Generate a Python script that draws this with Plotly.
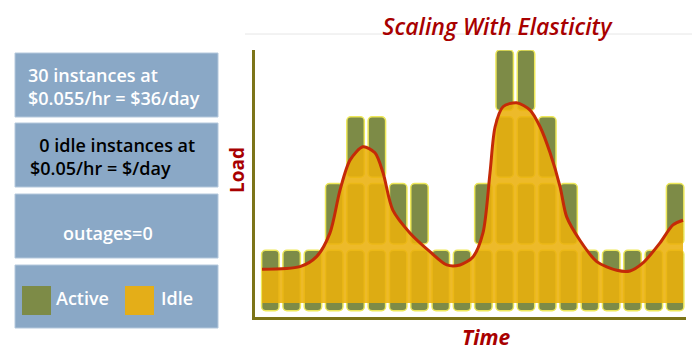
import plotly.graph_objects as go

# ---- data ----
columns = list(range(20))
active_levels = [1, 1, 1, 2, 3, 3, 2, 2, 1, 1, 2, 4, 4, 3, 2, 1, 1, 1, 1, 2]
load_time = [-0.39, 1.39, 2.17, 2.8, 3.27, 3.74, 4.35, 4.91, 5.29, 5.75, 6.55, 7.49,
             8.28, 8.9, 9.51, 9.98, 10.31, 10.55, 10.92, 11.56, 12.19, 12.66, 13.13,
             13.6, 13.91, 14.53, 15.32, 16.26, 16.88, 17.49, 18.29, 18.9, 19.37]
load_value = [0.715, 0.754, 0.904, 1.26, 1.90, 2.35, 2.55, 2.46, 2.16, 1.60, 1.26, 0.98,
              0.78, 0.78, 0.90, 1.26, 2.16, 2.85, 3.15, 3.21, 3.10, 2.85, 2.46,
              1.95, 1.50, 1.15, 0.83, 0.70, 0.69, 0.81, 1.11, 1.38, 1.45]
fill_floor = 0.21
block_gap = 0.095
box_lines = [["30 instances at", "$0.055/hr = $36/day"],
             ["\u00a0\u00a00 idle instances at", "$0.05/hr = $/day"],
             ["outages=0"]]
legend_labels = ["Active", "Idle"]

GREEN = "#7D8B47"
GOLD = "#E4AE18"
BOX = "#8AA8C6"
DARKRED = "#A80000"

fig = go.Figure()

for k in range(1, max(active_levels) + 1):
    xs = [c for c, h in zip(columns, active_levels) if h >= k]
    fig.add_trace(go.Bar(
        x=xs, y=[1 - block_gap] * len(xs), base=[k - 1 + block_gap] * len(xs),
        width=0.82, marker=dict(color=GREEN, line=dict(color="#EEE85A", width=1.5),
                                cornerradius=4),
        showlegend=False, hoverinfo="skip"))

fig.add_trace(go.Scatter(x=load_time, y=[fill_floor] * len(load_time), mode="lines",
                         line=dict(width=0, color="rgba(0,0,0,0)"), showlegend=False,
                         hoverinfo="skip"))
fig.add_trace(go.Scatter(x=load_time, y=load_value, mode="lines", fill="tonexty",
                         fillcolor="rgba(234,176,12,0.88)",
                         line=dict(color="#C42A08", width=3, shape="spline", smoothing=0.8),
                         showlegend=False))

# page body has an 8px margin: figure is shifted by OFF inside the window
OFF = 8
W, H = 700 - OFF, 358 - OFF
L, R, T, B = 255, 686, 50, 317   # plot area in window pixels
def px(x):
    return (x - L) / (R - L)
def py(y):
    return (B - y) / (B - T)

shapes = []
annotations = []
font = "Open Sans"
FS = 18

box_rows = [(53, 117), (123, 187), (194, 258), (265, 328)]
for (y0, y1) in box_rows:
    shapes.append(dict(type="rect", xref="paper", yref="paper", x0=px(15), x1=px(218),
                       y0=py(y1), y1=py(y0), fillcolor=BOX,
                       line=dict(color="#B4C8DC", width=1), layer="above"))

def tfont(color):
    return dict(color=color, size=FS, family=font, weight=600)

annotations += [
    dict(text="<br>".join(box_lines[0]), x=px(26), y=py(86), xanchor="left",
         yanchor="middle", align="left", font=tfont("white")),
    dict(text="<br>".join(box_lines[1]), x=px(28), y=py(156), xanchor="left",
         yanchor="middle", align="left", font=tfont("black")),
    dict(text=box_lines[2][0], x=px(108), y=py(233), xanchor="center", yanchor="middle",
         font=tfont("white")),
    dict(text=legend_labels[0], x=px(54), y=py(298), xanchor="left", yanchor="middle",
         font=tfont("white")),
    dict(text=legend_labels[1], x=px(159), y=py(298), xanchor="left", yanchor="middle",
         font=tfont("white")),
]
shapes += [
    dict(type="rect", xref="paper", yref="paper", x0=px(22), x1=px(51), y0=py(315),
         y1=py(286), fillcolor=GREEN, line=dict(width=0), layer="above"),
    dict(type="rect", xref="paper", yref="paper", x0=px(125), x1=px(154), y0=py(315),
         y1=py(286), fillcolor=GOLD, line=dict(width=0), layer="above"),
    dict(type="line", xref="paper", yref="paper", x0=px(245), x1=px(700), y0=py(34),
         y1=py(34), line=dict(color="#E6E6E6", width=1), layer="below"),
]

annotations += [
    dict(text="<b><i>Time</i></b>", x=px(486), y=py(337), xanchor="center",
         yanchor="middle", font=dict(color=DARKRED, size=21, family=font)),
    dict(text="<b>Load</b>", x=px(237), y=py(170), xanchor="center", yanchor="middle",
         textangle=-90, font=dict(color=DARKRED, size=19, family=font)),
]
for a in annotations:
    a.update(xref="paper", yref="paper", showarrow=False)

fig.update_layout(
    width=W, height=H,
    margin=dict(l=L - OFF, r=W - (R - OFF), t=T - OFF, b=H - (B - OFF)),
    paper_bgcolor="white", plot_bgcolor="white",
    barmode="overlay",
    title=dict(text="<i>Scaling With Elasticity</i>", x=px(497), xref="paper",
               xanchor="center", y=1 - (27 - OFF) / H, yref="container", yanchor="middle",
               font=dict(color=DARKRED, size=23, family=font, weight=600)),
    xaxis=dict(range=[-0.72, 19.51], showticklabels=False, showgrid=False, zeroline=False,
               showline=True, linecolor="#7C7418", linewidth=3, ticks=""),
    yaxis=dict(range=[0, 4], showticklabels=False, showgrid=False, zeroline=False,
               showline=True, linecolor="#7C7418", linewidth=3, ticks=""),
    shapes=shapes, annotations=annotations,
)

fig.write_html("out.html")
